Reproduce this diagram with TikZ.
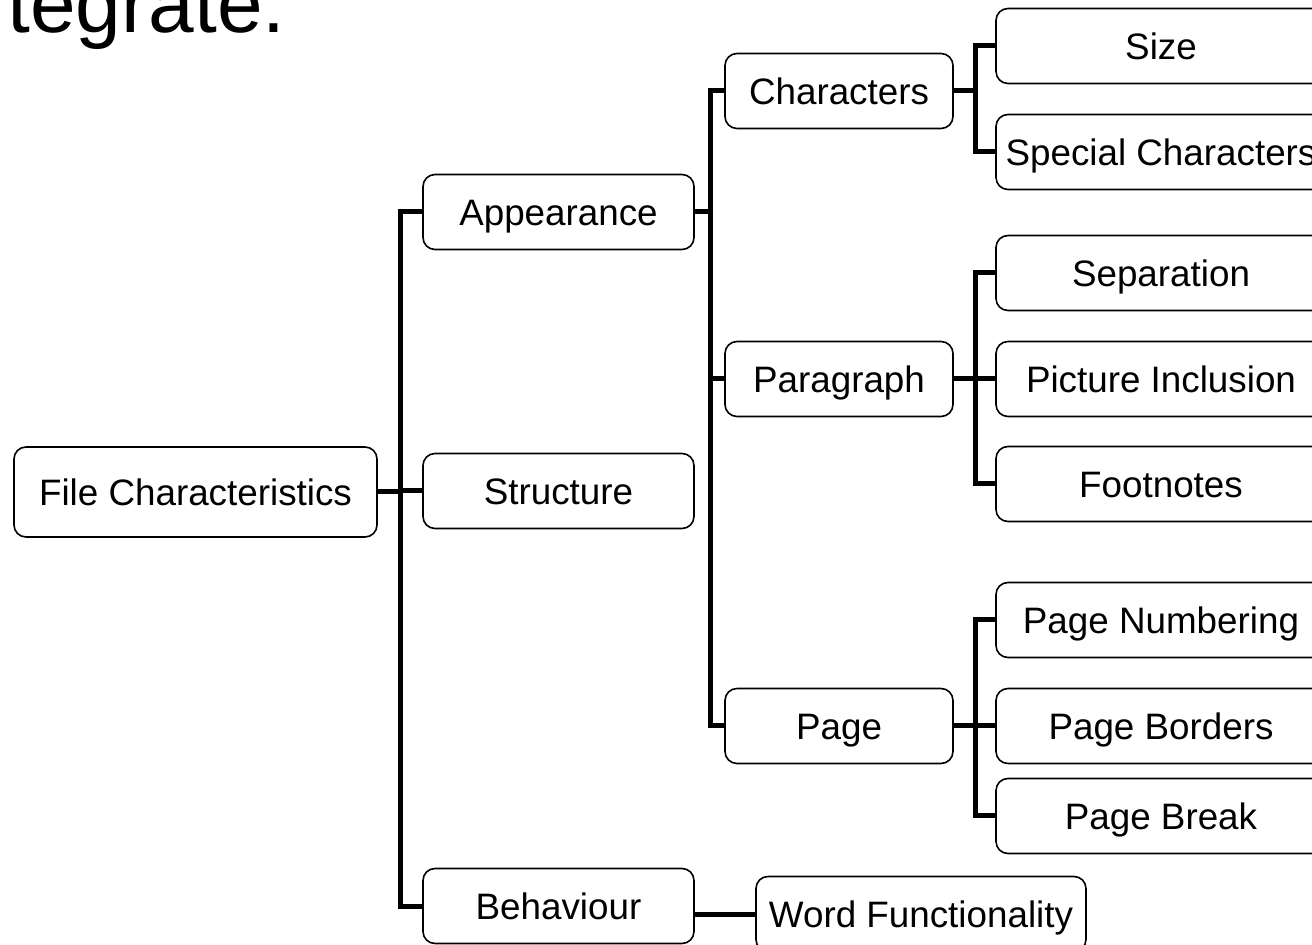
\documentclass[tikz,border=0pt]{standalone}
\usepackage{fontspec}
\setmainfont{Liberation Sans}
\usetikzlibrary{calc}

\begin{document}
\begin{tikzpicture}[x=0.5pt,y=-0.5pt]
	\useasboundingbox (0,0) rectangle (1312,945);
	\clip (0,0) rectangle (1312,945);
	\node[anchor=base west, inner sep=0, font=\fontsize{41pt}{48pt}\selectfont] (title) at (7,33) {tegrate.};
	\begin{scope}[every node/.style={draw,rounded corners=6pt,line width=0.8pt,inner sep=2pt,minimum height=37.5pt,text height=13.2pt,text depth=0pt,font=\fontsize{18.4pt}{22pt}\selectfont}, link/.style={line width=2.5pt}]
	\node[minimum width=181.5pt, minimum height=45pt] (fc) at (195.5,492) {File Characteristics};
	
	\node[minimum width=135.5pt] (app) at (558.5,212) {Appearance};
	\node[minimum width=135.5pt] (str) at (558.5,491) {Structure};
	\node[minimum width=135.5pt] (beh) at (558.5,906) {Behaviour};
	
	\node[minimum width=114pt] (chr) at (839,91) {Characters};
	\node[minimum width=114pt] (par) at (839,379) {Paragraph};
	\node[minimum width=114pt] (pag) at (839,726) {Page};
	\node[minimum width=165pt] (wf) at (921,914) {Word Functionality};
	
	\node[minimum width=165pt] (size) at (1161,46) {Size};
	\node[minimum width=165pt] (spc) at (1161,152) {Special Characters};
	\node[minimum width=165pt] (sep) at (1161,273) {Separation};
	\node[minimum width=165pt] (pic) at (1161,379) {Picture Inclusion};
	\node[minimum width=165pt] (fn) at (1161,484) {Footnotes};
	\node[minimum width=165pt] (pnum) at (1161,620) {Page Numbering};
	\node[minimum width=165pt] (pbor) at (1161,726) {Page Borders};
	\node[minimum width=165pt] (pbrk) at (1161,816) {Page Break};
	
	\coordinate (b1) at (400,0);
	\coordinate (b2) at (710,0);
	\coordinate (b3) at (975,0);
	
	\draw[link] (fc.east) -- (fc.east -| b1);
	\draw[link] (app.west) -- (app.west -| b1) |- (beh.west);
	\draw[link] (str.west) -- (str.west -| b1);
	
	\draw[link] (app.east) -- (app.east -| b2);
	\draw[link] (chr.west) -- (chr.west -| b2) |- (pag.west);
	\draw[link] (par.west) -- (par.west -| b2);
	\draw[link] (wf.west) -- (wf.west -| beh.east);
	
	\draw[link] (chr.east) -- (chr.east -| b3);
	\draw[link] (size.west) -- (size.west -| b3) |- (spc.west);
	
	\draw[link] (par.east) -- (par.east -| b3);
	\draw[link] (sep.west) -- (sep.west -| b3) |- (fn.west);
	\draw[link] (pic.west) -- (pic.west -| b3);
	
	\draw[link] (pag.east) -- (pag.east -| b3);
	\draw[link] (pnum.west) -- (pnum.west -| b3) |- (pbrk.west);
	\draw[link] (pbor.west) -- (pbor.west -| b3);
	\end{scope}
\end{tikzpicture}
\end{document}
